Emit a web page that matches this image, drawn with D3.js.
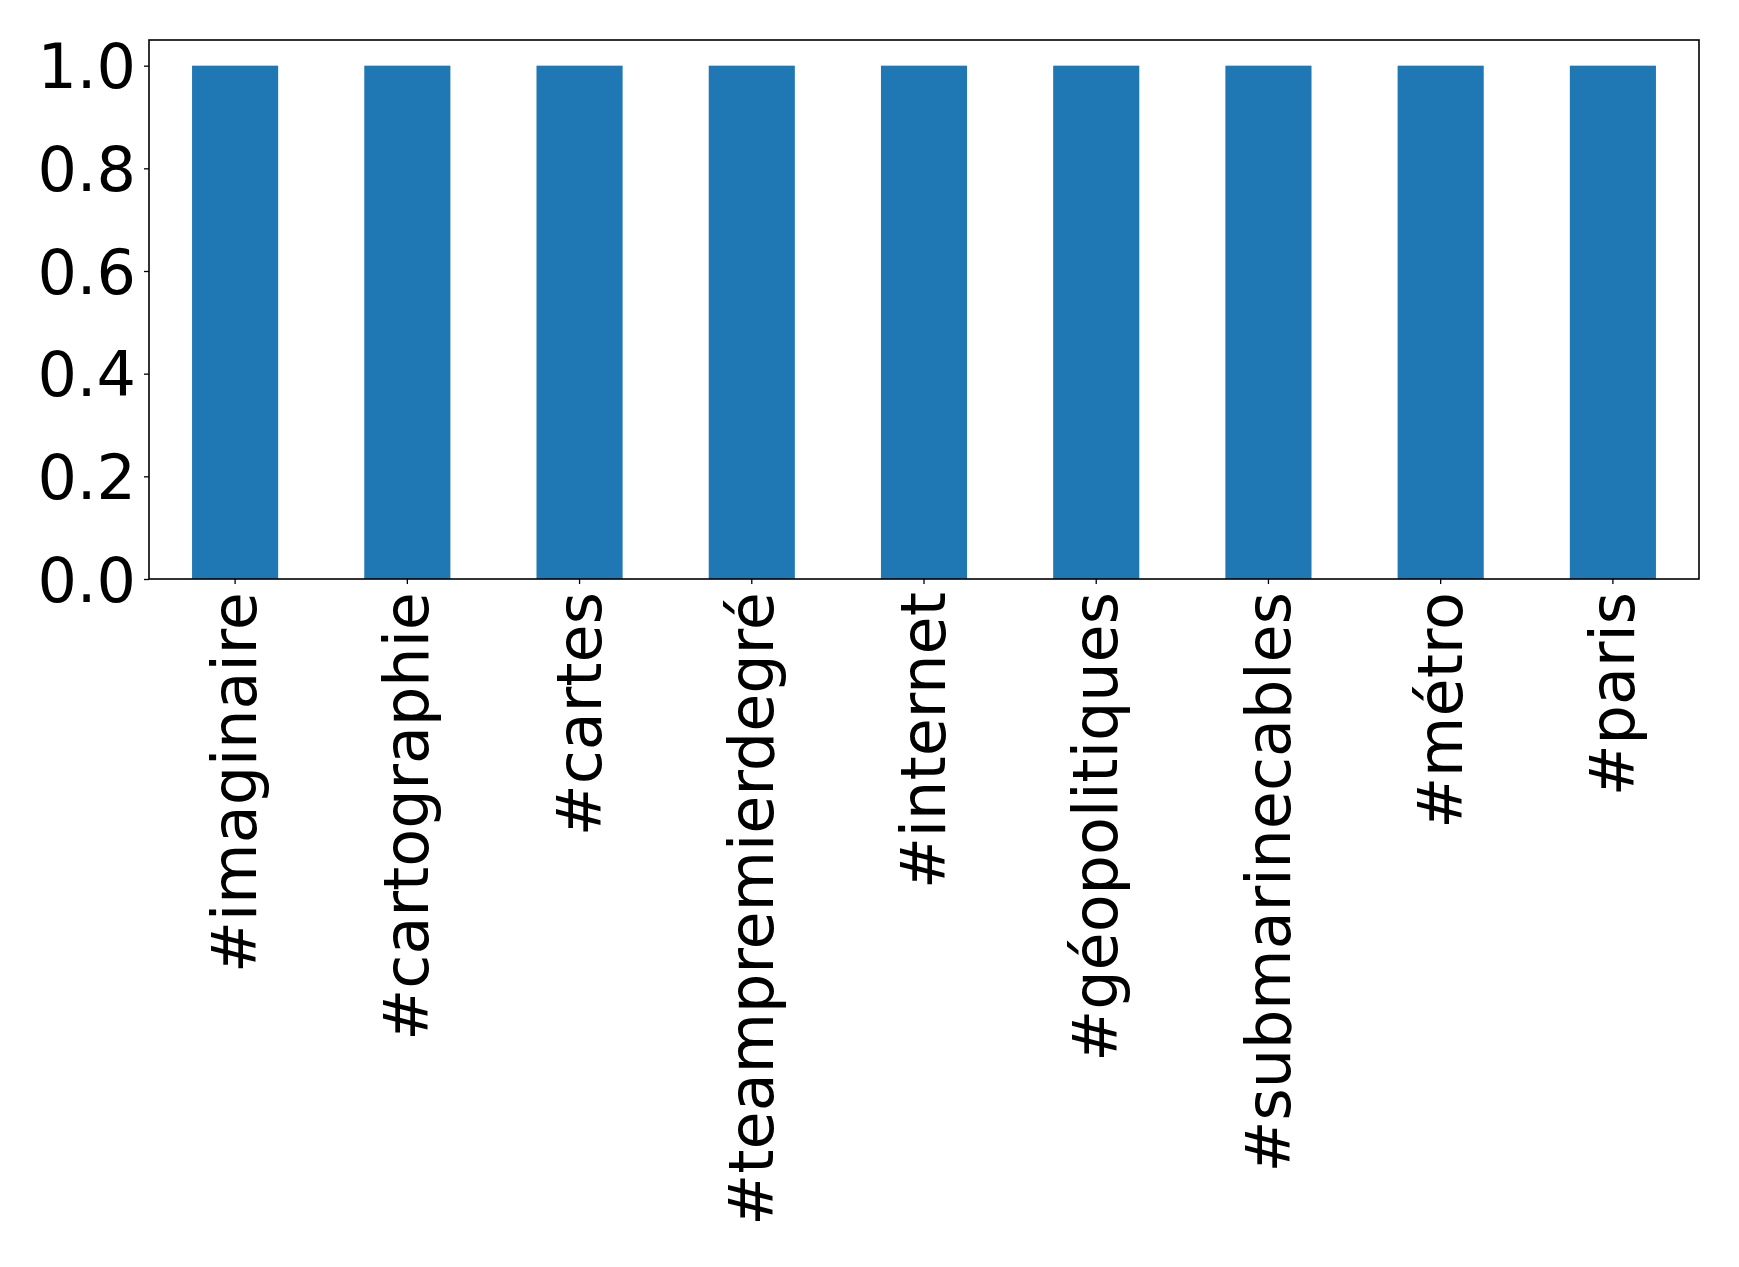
<!DOCTYPE html>
<html>
<head>
<meta charset="utf-8">
<script src="https://cdn.jsdelivr.net/npm/d3@7"></script>
<style>
  html, body { margin: 0; padding: 0; background: #fff; }
  svg { display: block; }
  text { font-family: "DejaVu Sans", sans-serif; }
</style>
</head>
<body>
<script>
const categories = ["#imaginaire", "#cartographie", "#cartes", "#teampremierdegré", "#internet", "#géopolitiques", "#submarinecables", "#métro", "#paris"];
const values = [1, 1, 1, 1, 1, 1, 1, 1, 1];
const yTicks = [0.0, 0.2, 0.4, 0.6, 0.8, 1.0];

(function () {
const W = 1739, H = 1267;
const mLeft = 149, mRight = 1699, mTop = 40, mBottom = 579;
const fontSize = 62;

const svg = d3.select("body").append("svg").attr("width", W).attr("height", H);

const x = d3.scaleBand().domain(categories).range([mLeft, mRight]).paddingInner(0.5).paddingOuter(0.25);
const y = d3.scaleLinear().domain([0, 1.05]).range([mBottom, mTop]);

svg.append("g").selectAll("rect").data(values).join("rect")
  .attr("x", (d, i) => x(categories[i]))
  .attr("width", x.bandwidth())
  .attr("y", d => y(d))
  .attr("height", d => y(0) - y(d))
  .attr("fill", "#1f77b4");

svg.append("rect").attr("x", mLeft).attr("y", mTop).attr("width", mRight - mLeft).attr("height", mBottom - mTop)
  .attr("fill", "none").attr("stroke", "#000").attr("stroke-width", 1.6);

const yAxis = svg.append("g").attr("transform", `translate(${mLeft},0)`)
  .call(d3.axisLeft(y).tickValues(yTicks).tickFormat(d3.format(".1f")).tickSize(5).tickPadding(8));
yAxis.select(".domain").remove();
yAxis.selectAll("line").attr("stroke", "#000").attr("stroke-width", 1.3);
yAxis.selectAll("text").attr("font-size", fontSize).attr("fill", "#000").attr("font-family", "DejaVu Sans").attr("dy", "0.36em");

const xAxis = svg.append("g").attr("transform", `translate(0,${mBottom})`)
  .call(d3.axisBottom(x).tickSize(5).tickPadding(8));
xAxis.select(".domain").remove();
xAxis.selectAll("line").attr("stroke", "#000").attr("stroke-width", 1.3);
xAxis.selectAll("text")
  .attr("font-size", fontSize).attr("fill", "#000").attr("font-family", "DejaVu Sans")
  .attr("text-anchor", "end")
  .attr("transform", "rotate(-90)")
  .attr("x", -13).attr("y", 0).attr("dy", "0.34em");
})();
</script>
</body>
</html>
